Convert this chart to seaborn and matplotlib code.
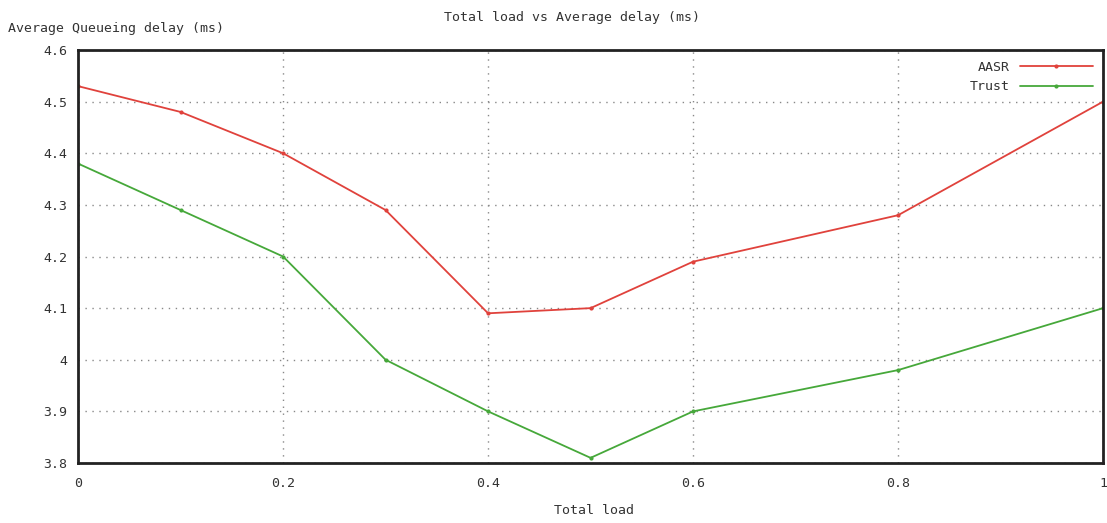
import matplotlib
matplotlib.use("Agg")
import matplotlib.pyplot as plt
import seaborn as sns
import pandas as pd

# data
load = [0.0, 0.1, 0.2, 0.3, 0.4, 0.5, 0.6, 0.8, 1.0]
aasr = [4.53, 4.48, 4.40, 4.29, 4.09, 4.10, 4.19, 4.28, 4.50]
trust = [4.38, 4.29, 4.20, 4.00, 3.90, 3.81, 3.90, 3.98, 4.10]

x_ticks = [0, 0.2, 0.4, 0.6, 0.8, 1]
x_labels = ["0", "0.2", "0.4", "0.6", "0.8", "1"]
y_ticks = [3.8, 3.9, 4.0, 4.1, 4.2, 4.3, 4.4, 4.5, 4.6]
y_labels = ["3.8", "3.9", "4", "4.1", "4.2", "4.3", "4.4", "4.5", "4.6"]

df = pd.DataFrame({"load": load * 2,
                   "delay": aasr + trust,
                   "series": ["AASR"] * len(load) + ["Trust"] * len(load)})

sns.set_style("white")
plt.rcParams['font.family'] = ['DejaVu Sans Mono']

fig = plt.figure(figsize=(11.07, 5.23), dpi=100)
ax = fig.add_axes([0.0705, 0.1147, 0.926, 0.7897])

sns.lineplot(data=df, x="load", y="delay", hue="series",
             palette={"AASR": "#e0423c", "Trust": "#46a83a"},
             marker="o", markersize=3, markeredgewidth=0, linewidth=1.3,
             ax=ax)

ax.set_xlim(0, 1)
ax.set_ylim(3.8, 4.6)
ax.set_xticks(x_ticks)
ax.set_xticklabels(x_labels)
ax.set_yticks(y_ticks)
ax.set_yticklabels(y_labels)
ax.tick_params(direction="in", length=5, width=1.5, colors="black",
               labelcolor="#333333", labelsize=9.5, pad=8)
ax.tick_params(axis="x", pad=10)
ax.grid(True, linestyle=(0, (1, 4)), color="#888888", linewidth=1)

for s in ax.spines.values():
    s.set_linewidth(2)
    s.set_color("#222222")

ax.set_xlabel("")
ax.set_ylabel("")
fig.text(0.537, 0.012, "Total load", fontsize=9.5, color="#333333",
         ha="center", va="bottom")
fig.text(0.007, 0.945, "Average Queueing delay (ms)", fontsize=9.5,
         color="#333333", ha="left", va="center")
fig.text(0.517, 0.966, "Total load vs Average delay (ms)", fontsize=9.5,
         color="#333333", ha="center", va="center")

leg = ax.legend(loc="upper right", frameon=False, markerfirst=False,
                fontsize=9.5, handlelength=5.5, borderaxespad=0.4,
                labelspacing=0.5)
for t in leg.get_texts():
    t.set_color("#333333")

fig.savefig("out.png", dpi=100)
